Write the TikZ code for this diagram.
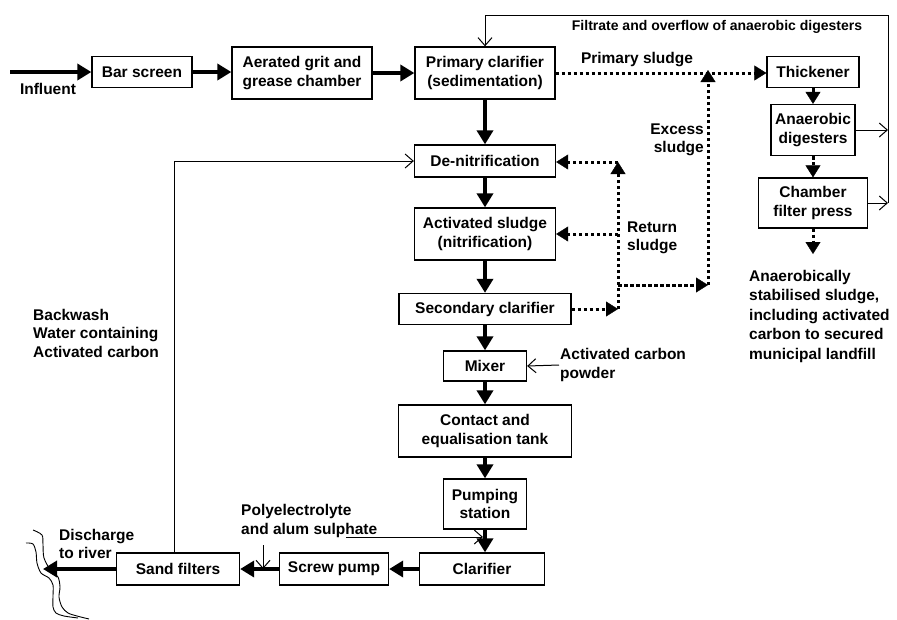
\documentclass[tikz,border=0pt]{standalone}
\usepackage{fontspec}
\setmainfont{Liberation Sans}
\usetikzlibrary{arrows.meta}

\newcommand{\wtfont}{\fontsize{15.5}{18.5}\selectfont\bfseries}
\newcommand{\wtsmall}{\fontsize{14}{17}\selectfont\bfseries}

\tikzset{
    wt box/.style={draw=black, line width=1.3pt, align=center,
                   font=\wtfont, inner sep=2pt},
    wt label/.style={font=\wtfont, align=left, inner sep=1pt},
    wt flow/.style={line width=3.5pt,
                    -{Triangle[length=14pt,width=16pt]}},
    wt sludge/.style={line width=3pt, dash pattern=on 3.5pt off 2.5pt,
                      -{Triangle[length=12pt,width=15pt,line width=0.4pt]}},
    wt feed/.style={line width=1pt,
                    -{Straight Barb[length=8pt,width=14pt]}},
    wt bank/.style={line width=0.9pt},
}

\begin{document}
\begin{tikzpicture}[x=1pt, y=-1pt]
    \useasboundingbox (0,0) rectangle (897,619);
    % Main line, top row
    \node[wt box, minimum width=100pt, minimum height=31pt] (bar)   at (142,72) {Bar screen};
    \node[wt box, minimum width=140pt, minimum height=52pt] (grit)  at (302,73) {Aerated grit and\\grease chamber};
    \node[wt box, minimum width=140pt, minimum height=52pt] (prim)  at (485,73) {Primary clarifier\\(sedimentation)};
    % Sludge line
    \node[wt box, minimum width=92pt,  minimum height=31pt] (thick) at (813,72)  {Thickener};
    \node[wt box, minimum width=84pt,  minimum height=51pt] (dig)   at (813,130) {Anaerobic\\digesters};
    \node[wt box, minimum width=109pt, minimum height=50pt] (press) at (813,203) {Chamber\\filter press};
    % Biological stage and after-treatment
    \node[wt box, minimum width=141pt, minimum height=32pt] (denit)   at (485,161) {De-nitrification};
    \node[wt box, minimum width=141pt, minimum height=52pt] (act)     at (485,234) {Activated sludge\\(nitrification)};
    \node[wt box, minimum width=172pt, minimum height=31pt] (sec)     at (485,309) {Secondary clarifier};
    \node[wt box, minimum width=83pt,  minimum height=30pt] (mixer)   at (485,366) {Mixer};
    \node[wt box, minimum width=173pt, minimum height=52pt] (contact) at (485,431) {Contact and\\equalisation tank};
    \node[wt box, minimum width=83pt,  minimum height=50pt] (pump)    at (485,504) {Pumping\\station};
    % Bottom row
    \node[wt box, minimum width=125pt, minimum height=32pt] (clar)  at (482,569) {Clarifier};
    \node[wt box, minimum width=109pt, minimum height=32pt] (screw) at (334,569) {Screw pump};
    \node[wt box, minimum width=123pt, minimum height=32pt] (sand)  at (178,569) {Sand filters};

    % Free ends and bends
    \coordinate (infl) at (10,72);
    \coordinate (riv)  at (43,569);
    \coordinate (ftr)  at (888,15);
    \coordinate (ftl)  at (485,15);
    \coordinate (bw)   at (174,161);
    \coordinate (rb)   at (618,309);
    \coordinate (rt)   at (618,162);
    \coordinate (rx)   at (618,285);
    \coordinate (ex)   at (708,285);
    \coordinate (land) at (813,254);
    \coordinate (pe1)  at (346,537);
    \coordinate (pe2)  at (483,537);
    \coordinate (al)   at (263,545);

    % Labels
    \node[wt label] (influent) at (48,89) {Influent};
    \node[wt label, font=\wtsmall] (filtrate) at (717,27) {Filtrate and overflow of anaerobic digesters};
    \node[wt label] (psludge) at (637,60) {Primary sludge};
    \node[wt label, anchor=east, align=right] (excess) at (705,140) {Excess\\sludge};
    \node[wt label, anchor=west] (return) at (626,238) {Return\\sludge};
    \node[wt label, anchor=west] (carbon) at (559,365) {Activated carbon\\powder};
    \node[wt label, anchor=west] (backwash) at (32,333) {Backwash\\Water containing\\Activated carbon};
    \node[wt label, anchor=west, font=\fontsize{15.5}{19.5}\selectfont\bfseries] (landfill) at (748,316)
          {Anaerobically\\stabilised sludge,\\including activated\\carbon to secured\\municipal landfill};
    \node[wt label, anchor=west] (river) at (58,544) {Discharge\\to river};
    \node[wt label, anchor=west] (poly) at (240,521) {Polyelectrolyte\\and alum sulphate};

    % Water flow
    \draw[wt flow] (infl) -- (bar.west);
    \draw[wt flow] (bar.east) -- (bar.east -| grit.west);
    \draw[wt flow] (grit.east) -- (grit.east -| prim.west);
    \draw[wt flow] (prim) -- (denit);
    \draw[wt flow] (denit) -- (act);
    \draw[wt flow] (act) -- (sec);
    \draw[wt flow] (sec) -- (mixer);
    \draw[wt flow] (mixer) -- (contact);
    \draw[wt flow] (contact) -- (pump);
    \draw[wt flow] (pump.south) -- (pump.south |- clar.north);
    \draw[wt flow] (clar) -- (screw);
    \draw[wt flow] (screw) -- (sand);
    \draw[wt flow] (sand.west) -- (riv);

    % Sludge flow
    \draw[wt sludge] (prim.east) -- (prim.east -| thick.west);
    \draw[wt sludge] (thick) -- (dig);
    \draw[wt sludge] (dig) -- (press);
    \draw[wt sludge] (press.south) -- (land);
    \draw[wt sludge] (sec.east) -- (rb);
    \draw[wt sludge] (rb) -- (rt);
    \draw[wt sludge] (rt) -- (rt -| denit.east);
    \draw[wt sludge] (rt |- act.east) -- (act.east);
    \draw[wt sludge] (rx) -- (ex);
    \draw[wt sludge] (ex) -- ([yshift=3pt]ex |- prim.east);

    % Side streams
    \draw[wt feed] (press.east -| ftr) -- (ftr) -- (ftl) -- (prim.north);
    \draw[wt feed] (dig.east) -- (dig.east -| ftr);
    \draw[wt feed] (press.east) -- (press.east -| ftr);
    \draw[wt feed] (sand.north -| bw) -- (bw) -- (denit.west);
    \draw[wt feed] (carbon.west) -- (mixer.east);
    \draw[wt feed] (pe1) -- (pe2);
    \draw[wt feed] (al) -- (al |- sand.east);

    % River banks
    \draw[wt bank] plot[smooth] coordinates {(33,530) (42,535) (43,545) (44,558) (51,571) (58,577)
          (60,587) (59,597) (62,607) (68,613) (77,616) (89,619)};
    \draw[wt bank] plot[smooth] coordinates {(26,543) (33,544) (36,552) (37,563) (41,573) (49,578)
          (53,585) (53,596) (53,607) (56,613) (64,616) (78,618)};
\end{tikzpicture}
\end{document}
